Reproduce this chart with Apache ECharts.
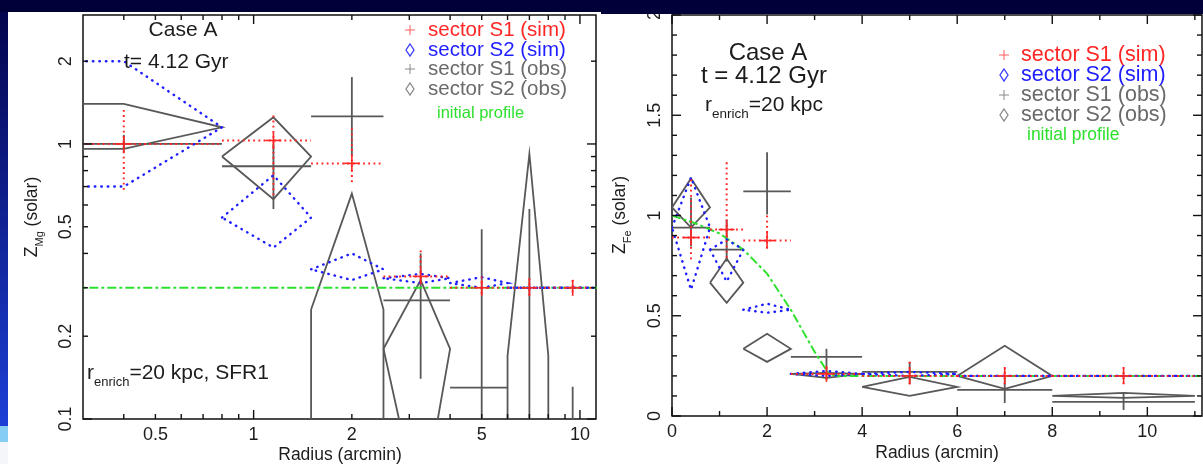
<!DOCTYPE html>
<html>
<head>
<meta charset="utf-8">
<title>Case A abundance profiles</title>
<script src="https://cdn.jsdelivr.net/npm/echarts@6/dist/echarts.min.js"></script>
<style>
  html, body { margin: 0; padding: 0; background: #01013a; overflow: hidden; }
  #chart { width: 1203px; height: 464px; }
</style>
</head>
<body>
<div id="chart"></div>
<script>
// Radial bins (arcmin), shared by both panels
const BIN_LO  = [0, 0.8, 1.5, 2.5, 4, 6, 8];
const BIN_HI  = [0.8, 1.5, 2.5, 4, 6, 8, 11];
const BIN_MID = [0.4, 1.15, 2, 3.25, 5, 7, 9.5];

// Mg abundance (solar), log-log panel
const MG_S1_SIM    = [1.00, 1.03, 0.85, 0.33, 0.30, 0.30, 0.30];
const MG_S1_SIM_LO = [0.67, 0.64, 0.72, 0.31, 0.28, 0.275, 0.28];
const MG_S1_SIM_HI = [1.33, 1.27, 1.14, 0.41, 0.33, 0.325, 0.32];
const MG_S2_SIM    = [1.15, 0.54, 0.35, 0.325, 0.312, 0.30, 0.30];
const MG_S2_SIM_LO = [0.70, 0.42, 0.32, 0.312, 0.30, 0.30, 0.30];
const MG_S2_SIM_HI = [2.00, 0.77, 0.40, 0.337, 0.328, 0.30, 0.30];
const MG_S1_OBS    = [1.00, 0.83, 1.26, 0.27, 0.13, 0.05, 0.05];
const MG_S1_OBS_LO = [0.93, 0.58, 0.90, 0.14, 0.03, 0.02, 0.02];
const MG_S1_OBS_HI = [1.08, 1.00, 1.75, 0.40, 0.49, 0.58, 0.131];
const MG_S2_OBS    = [1.15, 0.90, 0.25, 0.18, null, 0.17, null];
const MG_S2_OBS_LO = [0.96, 0.63, 0, 0.044, null, 0, null];
const MG_S2_OBS_HI = [1.40, 1.25, 0.66, 0.32, null, 0.92, null];
const MG_INIT_R    = [0.1, 12];
const MG_INIT_Z    = [0.30, 0.30];

// Fe abundance (solar), linear panel
const FE_S1_SIM    = [0.89, 0.93, 0.875, 0.21, 0.20, 0.20, 0.20];
const FE_S1_SIM_LO = [0.77, 0.78, 0.83, 0.17, 0.155, 0.14, 0.155];
const FE_S1_SIM_HI = [1.18, 1.265, 1.00, 0.245, 0.27, 0.245, 0.245];
const FE_S2_SIM    = [0.94, 0.83, 0.53, 0.21, 0.21, 0.20, 0.20];
const FE_S2_SIM_LO = [0.63, 0.67, 0.515, 0.20, 0.20, 0.20, 0.20];
const FE_S2_SIM_HI = [1.19, 0.88, 0.56, 0.225, 0.22, 0.20, 0.20];
const FE_S1_OBS    = [0.94, 0.83, 1.12, 0.295, 0.22, 0.13, 0.07];
const FE_S1_OBS_LO = [0.845, 0.77, 1.005, 0.18, 0.16, 0.065, 0.03];
const FE_S1_OBS_HI = [1.09, 0.98, 1.315, 0.335, 0.27, 0.19, 0.115];
const FE_S2_OBS    = [1.04, 0.665, 0.335, 0.21, 0.145, 0.20, 0.10];
const FE_S2_OBS_LO = [0.94, 0.565, 0.27, 0.19, 0.10, 0.135, 0.09];
const FE_S2_OBS_HI = [1.185, 0.785, 0.41, 0.215, 0.195, 0.35, 0.115];
const FE_INIT_R    = [0, 0.5, 1.0, 1.5, 2.0, 2.5, 3.0, 3.3, 3.5, 11.15];
const FE_INIT_Z    = [1.00, 0.96, 0.91, 0.83, 0.71, 0.53, 0.32, 0.21, 0.20, 0.20];

// Tick marks and labels
const MG_X_MAJOR = [1, 10];
const MG_X_MINOR = [0.4, 0.5, 0.6, 0.7, 0.8, 0.9, 2, 3, 4, 5, 6, 7, 8, 9];
const MG_X_LABELS = ['0.5', '1', '2', '5', '10'];
const MG_Y_MAJOR = [0.1, 1];
const MG_Y_MINOR = [0.2, 0.3, 0.4, 0.5, 0.6, 0.7, 0.8, 0.9, 2];
const MG_Y_LABELS = ['0.1', '0.2', '0.5', '1', '2'];
const FE_X_MAJOR = [0, 2, 4, 6, 8, 10];
const FE_X_MINOR = [1, 3, 5, 7, 9, 11];
const FE_X_LABELS = ['0', '2', '4', '6', '8', '10'];
const FE_Y_MAJOR = [0, 0.5, 1, 1.5, 2];
const FE_Y_MINOR = [0.1, 0.2, 0.3, 0.4, 0.6, 0.7, 0.8, 0.9, 1.1, 1.2, 1.3, 1.4, 1.6, 1.7, 1.8, 1.9];
const FE_Y_LABELS = ['0', '0.5', '1', '1.5', '2'];

const LEGEND_ITEMS = ['sector S1 (sim)', 'sector S2 (sim)', 'sector S1 (obs)', 'sector S2 (obs)'];

const FONT = "'Liberation Sans', Arial, Helvetica, sans-serif";
const RED = '#ff2626', BLUE = '#1e1eff', GRAY = '#585858', GREEN = '#2ee02e', INK = '#1c1c1c';
const FAR = 10000;   // screen offset standing in for log(0) = -infinity

const PANELS = [
  {
    grid: 0, logX: true, logY: true, xMin: 0.3, yMin: 0.1,
    s1sim: { val: MG_S1_SIM, lo: MG_S1_SIM_LO, hi: MG_S1_SIM_HI },
    s2sim: { val: MG_S2_SIM, lo: MG_S2_SIM_LO, hi: MG_S2_SIM_HI },
    s1obs: { val: MG_S1_OBS, lo: MG_S1_OBS_LO, hi: MG_S1_OBS_HI },
    s2obs: { val: MG_S2_OBS, lo: MG_S2_OBS_LO, hi: MG_S2_OBS_HI },
    initR: MG_INIT_R, initZ: MG_INIT_Z,
    ticks: { xMajor: MG_X_MAJOR, xMinor: MG_X_MINOR, xLabels: MG_X_LABELS,
             yMajor: MG_Y_MAJOR, yMinor: MG_Y_MINOR, yLabels: MG_Y_LABELS }
  },
  {
    grid: 1, logX: false, logY: false, xMin: 0, yMin: 0,
    s1sim: { val: FE_S1_SIM, lo: FE_S1_SIM_LO, hi: FE_S1_SIM_HI },
    s2sim: { val: FE_S2_SIM, lo: FE_S2_SIM_LO, hi: FE_S2_SIM_HI },
    s1obs: { val: FE_S1_OBS, lo: FE_S1_OBS_LO, hi: FE_S1_OBS_HI },
    s2obs: { val: FE_S2_OBS, lo: FE_S2_OBS_LO, hi: FE_S2_OBS_HI },
    initR: FE_INIT_R, initZ: FE_INIT_Z,
    ticks: { xMajor: FE_X_MAJOR, xMinor: FE_X_MINOR, xLabels: FE_X_LABELS,
             yMajor: FE_Y_MAJOR, yMinor: FE_Y_MINOR, yLabels: FE_Y_LABELS }
  }
];

function binRows(vals) {
  return BIN_MID.map((m, i) => (vals[i] == null ? null : [m, vals[i], i])).filter(r => r);
}

// Error diamond: (lo edge, val) -> (mid, hi) -> (hi edge, val) -> (mid, lo)
function diamondRenderer(P, set, style) {
  return function (params, api) {
    const i = api.value(2);
    const verts = [
      [BIN_LO[i], set.val[i]], [BIN_MID[i], set.hi[i]],
      [BIN_HI[i], set.val[i]], [BIN_MID[i], set.lo[i]]
    ];
    const scr = verts.map(([x, y]) => {
      const infX = P.logX && !(x > 0), infY = P.logY && !(y > 0);
      return { infX, infY, p: api.coord([infX ? 1 : x, infY ? 1 : y]) };
    });
    const n = scr.length, pts = [];
    for (let k = 0; k < n; k++) {
      const v = scr[k];
      if (!v.infX && !v.infY) { pts.push(v.p); continue; }
      const prev = scr[(k + n - 1) % n].p, next = scr[(k + 1) % n].p;
      if (v.infX) pts.push([prev[0] - FAR, prev[1]], [next[0] - FAR, next[1]]);
      else pts.push([prev[0], prev[1] + FAR], [next[0], next[1] + FAR]);
    }
    pts.push(pts[0].slice());
    return { type: 'polyline', shape: { points: pts }, style: Object.assign({ fill: 'none' }, style) };
  };
}

// Error cross: horizontal bin extent and vertical error range
function crossRenderer(P, set, style, arm) {
  return function (params, api) {
    const i = api.value(2);
    const c = api.coord([BIN_MID[i], set.val[i]]);
    const left = (P.logX && !(BIN_LO[i] > 0)) ? [c[0] - FAR, c[1]] : api.coord([BIN_LO[i], set.val[i]]);
    const right = api.coord([BIN_HI[i], set.val[i]]);
    const top = api.coord([BIN_MID[i], set.hi[i]]);
    const bottom = (P.logY && !(set.lo[i] > 0)) ? [c[0], c[1] + FAR] : api.coord([BIN_MID[i], set.lo[i]]);
    const kids = [
      { type: 'line', shape: { x1: left[0], y1: left[1], x2: right[0], y2: right[1] }, style },
      { type: 'line', shape: { x1: top[0], y1: top[1], x2: bottom[0], y2: bottom[1] }, style }
    ];
    if (arm) {
      const solid = { stroke: style.stroke, lineWidth: 1.6 };
      kids.push(
        { type: 'line', shape: { x1: c[0] - arm, y1: c[1], x2: c[0] + arm, y2: c[1] }, style: solid },
        { type: 'line', shape: { x1: c[0], y1: c[1] - arm, x2: c[0], y2: c[1] + arm }, style: solid }
      );
    }
    return { type: 'group', children: kids };
  };
}

function buildTicks(P) {
  const T = P.ticks, out = [];
  T.xMajor.forEach(v => out.push({ axis: 'x', v, len: 9 }));
  T.xMinor.forEach(v => out.push({ axis: 'x', v, len: 5 }));
  T.xLabels.forEach(s => out.push({ axis: 'x', v: parseFloat(s), len: 0, label: s }));
  T.yMajor.forEach(v => out.push({ axis: 'y', v, len: 9 }));
  T.yMinor.forEach(v => out.push({ axis: 'y', v, len: 5 }));
  T.yLabels.forEach(s => out.push({ axis: 'y', v: parseFloat(s), len: 0, label: s }));
  P._ticks = out;
  return out.map((t, k) => [t.axis === 'x' ? t.v : P.xMin, t.axis === 'y' ? t.v : P.yMin, k]);
}

function tickRenderer(P) {
  return function (params, api) {
    const t = P._ticks[api.value(2)];
    const cs = params.coordSys;
    const bottom = cs.y + cs.height, right = cs.x + cs.width;
    const p = api.coord([api.value(0), api.value(1)]);
    const ln = (x1, y1, x2, y2) => ({ type: 'line', shape: { x1, y1, x2, y2 }, style: { stroke: '#111', lineWidth: 1.4 } });
    const labelStyle = (s) => ({ text: s, fontSize: 18, fontFamily: FONT, fill: INK, align: 'center', verticalAlign: 'middle' });
    const kids = [];
    if (t.axis === 'x') {
      if (t.len) kids.push(ln(p[0], bottom, p[0], bottom - t.len), ln(p[0], cs.y, p[0], cs.y + t.len));
      if (t.label) kids.push({ type: 'text', x: p[0], y: bottom + 16, style: labelStyle(t.label) });
    } else {
      if (t.len) kids.push(ln(cs.x, p[1], cs.x + t.len, p[1]), ln(right, p[1], right - t.len, p[1]));
      if (t.label) kids.push({ type: 'text', x: cs.x - 17, y: p[1], rotation: Math.PI / 2, style: labelStyle(t.label) });
    }
    return { type: 'group', children: kids };
  };
}

function panelSeries(P) {
  const base = {
    type: 'custom', coordinateSystem: 'cartesian2d', xAxisIndex: P.grid, yAxisIndex: P.grid,
    encode: { x: 0, y: 1 }, clip: true, silent: true, animation: false
  };
  return [
    Object.assign({}, base, { data: binRows(P.s2obs.val), z: 3,
      renderItem: diamondRenderer(P, P.s2obs, { stroke: GRAY, lineWidth: 1.8 }) }),
    Object.assign({}, base, { data: binRows(P.s1obs.val), z: 3,
      renderItem: crossRenderer(P, P.s1obs, { stroke: GRAY, lineWidth: 1.8 }, 0) }),
    {
      type: 'line', xAxisIndex: P.grid, yAxisIndex: P.grid, z: 4, silent: true, clip: true,
      data: P.initR.map((r, i) => [r, P.initZ[i]]), symbol: 'none', showSymbol: false,
      lineStyle: { color: GREEN, width: 2, type: [9, 3, 3, 3] }, animation: false
    },
    Object.assign({}, base, { data: binRows(P.s2sim.val), z: 5,
      renderItem: diamondRenderer(P, P.s2sim, { stroke: BLUE, lineWidth: 2.4, lineDash: [0.5, 6], lineCap: 'round' }) }),
    Object.assign({}, base, { data: binRows(P.s1sim.val), z: 6,
      renderItem: crossRenderer(P, P.s1sim, { stroke: RED, lineWidth: 2, lineDash: [1.8, 3.4] }, 8) }),
    Object.assign({}, base, { data: buildTicks(P), z: 7, clip: false, renderItem: tickRenderer(P) })
  ];
}

function subText(x, y, main, sub, rest, size, subSize, extra) {
  return Object.assign({
    type: 'text', x, y, z: 20,
    style: {
      text: '{m|' + main + '}{s|' + sub + '}{m|' + rest + '}',
      rich: {
        m: { fontSize: size, fontFamily: FONT, fill: INK, lineHeight: size + 2, verticalAlign: 'top' },
        s: { fontSize: subSize, fontFamily: FONT, fill: INK, lineHeight: subSize + 1,
             padding: [Math.round(size * 0.6), 0, 0, 0], verticalAlign: 'top' }
      },
      align: 'left', verticalAlign: 'middle'
    }
  }, extra || {});
}

function plainText(x, y, text, size, color, align) {
  return { type: 'text', x, y, z: 20,
    style: { text, fontSize: size, fontFamily: FONT, fill: color || INK, align: align || 'left', verticalAlign: 'middle' } };
}

function legend(symX, textX, rowsY, size, initX, initY, initSize) {
  const colors = [RED, BLUE, '#6a6a6a', '#6a6a6a'];
  const symColors = ['#ff5a5a', '#3a3aff', '#8a8a8a', '#8a8a8a'];
  const els = [];
  LEGEND_ITEMS.forEach((txt, k) => {
    const y = rowsY[k];
    if (k % 2 === 0) {
      els.push({ type: 'group', x: symX, y, z: 20, children: [
        { type: 'line', shape: { x1: -5, y1: 0, x2: 5, y2: 0 }, style: { stroke: symColors[k], lineWidth: 1 } },
        { type: 'line', shape: { x1: 0, y1: -5, x2: 0, y2: 5 }, style: { stroke: symColors[k], lineWidth: 1 } }
      ] });
    } else {
      els.push({ type: 'polygon', x: symX, y, z: 20, shape: { points: [[0, -6], [4, 0], [0, 6], [-4, 0]] },
        style: { stroke: symColors[k], fill: 'none', lineWidth: 1.3 } });
    }
    els.push(plainText(textX, y, txt, size, colors[k]));
  });
  els.push(plainText(initX, initY, 'initial profile', initSize, GREEN));
  return els;
}

const graphics = [
  // slide backdrop
  { type: 'rect', z: -10, shape: { x: 8, y: 12, width: 593, height: 452 }, style: { fill: '#ffffff' } },
  { type: 'rect', z: -10, shape: { x: 601, y: 14, width: 602, height: 450 }, style: { fill: '#ffffff' } },
  { type: 'rect', z: -10, shape: { x: 0, y: 0, width: 8, height: 426 },
    style: { fill: new echarts.graphic.LinearGradient(0, 0, 0, 1, [
      { offset: 0, color: '#03034a' }, { offset: 1, color: '#1d3fd6' }]) } },
  { type: 'rect', z: -10, shape: { x: 0, y: 426, width: 8, height: 16 }, style: { fill: '#86cdf4' } },
  { type: 'rect', z: -10, shape: { x: 0, y: 442, width: 8, height: 22 }, style: { fill: '#f4f6fa' } },
  { type: 'rect', z: 100, shape: { x: 0, y: 0, width: 1203, height: 12 }, style: { fill: '#01013a' } },
  { type: 'rect', z: 100, shape: { x: 601, y: 12, width: 602, height: 2 }, style: { fill: '#01013a' } },

  // Mg panel annotations
  plainText(183, 30, 'Case A', 21, INK, 'center'),
  plainText(124, 62, 't= 4.12 Gyr', 21),
  subText(87, 374, 'r', 'enrich', '=20 kpc, SFR1', 21, 13),
  plainText(340, 455, 'Radius (arcmin)', 17.5, INK, 'center'),
  subText(33, 217, 'Z', 'Mg', ' (solar)', 17.5, 11, { rotation: Math.PI / 2, style: undefined }),

  // Fe panel annotations
  plainText(768, 53, 'Case A', 24, INK, 'center'),
  plainText(764, 76, 't = 4.12 Gyr', 24, INK, 'center'),
  subText(705, 106, 'r', 'enrich', '=20 kpc', 21, 13.5),
  plainText(937, 453, 'Radius (arcmin)', 17.5, INK, 'center'),
  subText(621, 215, 'Z', 'Fe', ' (solar)', 17.5, 11, { rotation: Math.PI / 2, style: undefined })
].concat(
  legend(410, 428, [30, 50, 69, 89], 20.5, 437, 113, 16.5),
  legend(1004, 1021, [55, 75, 95, 115], 21.5, 1027, 135, 17.5)
);

// rotated titles: restore their style (Object.assign above only set rotation)
graphics.forEach(g => {
  if (g.style === undefined && g.type === 'text') delete g.style;
});
const yTitles = [
  subText(33, 217, 'Z', 'Mg', ' (solar)', 17.5, 11),
  subText(621, 215, 'Z', 'Fe', ' (solar)', 17.5, 11)
];
let ti = 0;
graphics.forEach(g => {
  if (g.type === 'text' && !g.style) {
    g.style = yTitles[ti++].style;
    g.style.align = 'center';
  }
});

const chart = echarts.init(document.getElementById('chart'), null, { renderer: 'canvas' });
chart.setOption({
  animation: false,
  backgroundColor: 'transparent',
  grid: [
    { left: 83, top: 15, width: 513, height: 404, show: true, borderColor: '#111', borderWidth: 1.5, backgroundColor: 'transparent' },
    { left: 672, top: 15, width: 530, height: 401, show: true, borderColor: '#111', borderWidth: 1.5, backgroundColor: 'transparent' }
  ],
  xAxis: [
    { type: 'log', logBase: 10, gridIndex: 0, min: 0.3, max: 11.2, show: false },
    { type: 'value', gridIndex: 1, min: 0, max: 11.15, show: false }
  ],
  yAxis: [
    { type: 'log', logBase: 10, gridIndex: 0, min: 0.1, max: 2.944, show: false },
    { type: 'value', gridIndex: 1, min: 0, max: 2, show: false }
  ],
  graphic: { elements: graphics },
  series: panelSeries(PANELS[0]).concat(panelSeries(PANELS[1]))
});
</script>
</body>
</html>
